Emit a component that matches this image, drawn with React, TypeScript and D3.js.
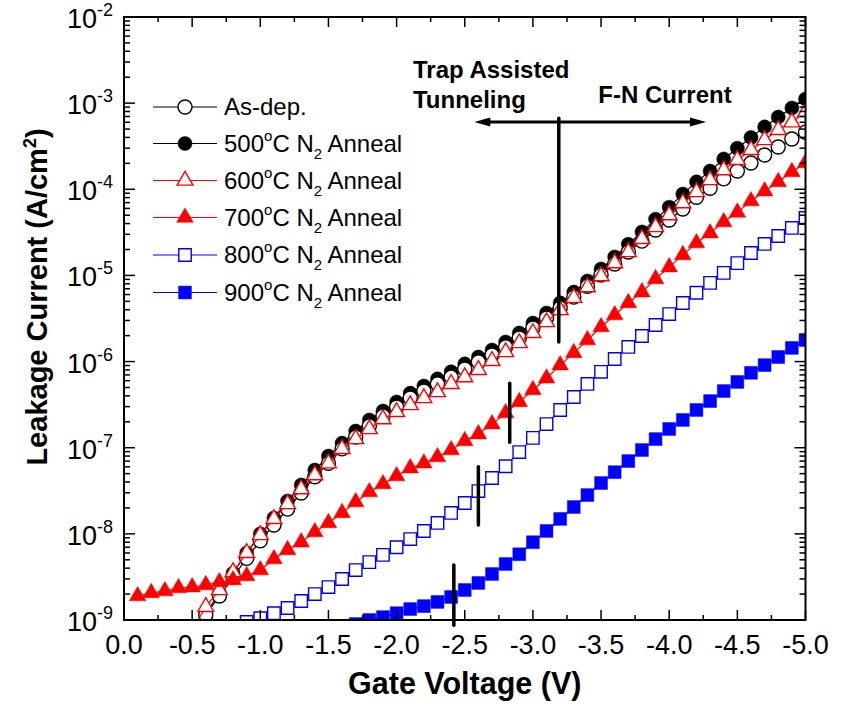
import React, { useEffect, useRef } from 'react';
import * as d3 from 'd3';

// gate voltage (V), one point every 0.1 V
const voltages = [
  -0.1, -0.2, -0.3, -0.4, -0.5, -0.6, -0.7, -0.8, -0.9, -1.0,
  -1.1, -1.2, -1.3, -1.4, -1.5, -1.6, -1.7, -1.8, -1.9, -2.0,
  -2.1, -2.2, -2.3, -2.4, -2.5, -2.6, -2.7, -2.8, -2.9, -3.0,
  -3.1, -3.2, -3.3, -3.4, -3.5, -3.6, -3.7, -3.8, -3.9, -4.0,
  -4.1, -4.2, -4.3, -4.4, -4.5, -4.6, -4.7, -4.8, -4.9, -5.0,
];

// leakage current (A/cm2), null where not measured / shown
const asDep = [
  null, null, null, null, 6.7e-10, 1.14e-9, 1.9e-9, 3.15e-9, 5.2e-9, 8.3e-9,
  1.27e-8, 1.94e-8, 2.98e-8, 4.6e-8, 6.6e-8, 9.7e-8, 1.33e-7, 1.79e-7, 2.33e-7, 2.97e-7,
  3.77e-7, 4.55e-7, 5.5e-7, 6.6e-7, 8.2e-7, 9.9e-7, 1.19e-6, 1.48e-6, 1.88e-6, 2.45e-6,
  3.2e-6, 4.2e-6, 5.6e-6, 7.5e-6, 1.01e-5, 1.36e-5, 1.87e-5, 2.5e-5, 3.37e-5, 4.4e-5,
  5.9e-5, 8.1e-5, 1.03e-4, 1.32e-4, 1.63e-4, 2.02e-4, 2.5e-4, 3.1e-4, 3.84e-4, 4.6e-4,
];
const anneal500 = [
  null, null, null, null, 7.1e-10, 1.2e-9, 2.06e-9, 3.5e-9, 6.0e-9, 1.0e-8,
  1.53e-8, 2.4e-8, 3.7e-8, 5.5e-8, 8.0e-8, 1.13e-7, 1.56e-7, 2.1e-7, 2.67e-7, 3.4e-7,
  4.3e-7, 5.2e-7, 6.3e-7, 7.6e-7, 9.4e-7, 1.13e-6, 1.36e-6, 1.69e-6, 2.15e-6, 2.8e-6,
  3.66e-6, 4.8e-6, 6.4e-6, 8.6e-6, 1.19e-5, 1.64e-5, 2.3e-5, 3.2e-5, 4.5e-5, 6.2e-5,
  8.8e-5, 1.22e-4, 1.63e-4, 2.25e-4, 3.0e-4, 4.0e-4, 5.3e-4, 6.9e-4, 8.8e-4, 1.12e-3,
];
const anneal600 = [
  null, null, null, null, 7.65e-10, 1.42e-9, 2.23e-9, 3.6e-9, 6.0e-9, 9.7e-9,
  1.49e-8, 2.22e-8, 3.3e-8, 4.8e-8, 6.6e-8, 9.7e-8, 1.26e-7, 1.65e-7, 2.15e-7, 2.6e-7,
  3.13e-7, 3.77e-7, 4.43e-7, 5.5e-7, 6.6e-7, 8.0e-7, 1.02e-6, 1.29e-6, 1.64e-6, 2.15e-6,
  2.88e-6, 3.97e-6, 5.5e-6, 7.3e-6, 9.8e-6, 1.39e-5, 1.87e-5, 2.65e-5, 3.65e-5, 5.0e-5,
  6.9e-5, 9.3e-5, 1.28e-4, 1.67e-4, 2.19e-4, 2.86e-4, 3.73e-4, 4.9e-4, 6.0e-4, 7.9e-4,
];
const anneal700 = [
  1.9e-9, 2.06e-9, 2.17e-9, 2.35e-9, 2.41e-9, 2.55e-9, 2.76e-9, 2.91e-9, 3.24e-9, 3.8e-9,
  5.1e-9, 6.5e-9, 8.0e-9, 1.05e-8, 1.34e-8, 1.75e-8, 2.34e-8, 3.06e-8, 3.79e-8, 4.69e-8,
  5.8e-8, 6.6e-8, 7.8e-8, 9.4e-8, 1.2e-7, 1.44e-7, 1.88e-7, 2.53e-7, 3.4e-7, 4.68e-7,
  6.4e-7, 9.1e-7, 1.26e-6, 1.78e-6, 2.52e-6, 3.47e-6, 4.79e-6, 6.4e-6, 9.1e-6, 1.25e-5,
  1.73e-5, 2.38e-5, 3.1e-5, 4.17e-5, 5.4e-5, 7.3e-5, 9.5e-5, 1.22e-4, 1.59e-4, 2.02e-4,
];
const anneal800 = [
  null, null, null, null, null, null, null, null, 9.5e-10, 1.05e-9,
  1.2e-9, 1.38e-9, 1.66e-9, 2.0e-9, 2.41e-9, 2.99e-9, 3.8e-9, 4.7e-9, 5.7e-9, 7.0e-9,
  8.7e-9, 1.08e-8, 1.34e-8, 1.75e-8, 2.28e-8, 3.14e-8, 4.45e-8, 6.1e-8, 8.9e-8, 1.3e-7,
  1.88e-7, 2.74e-7, 3.88e-7, 5.5e-7, 7.6e-7, 1.07e-6, 1.48e-6, 1.98e-6, 2.66e-6, 3.56e-6,
  4.79e-6, 6.3e-6, 8.2e-6, 1.07e-5, 1.39e-5, 1.82e-5, 2.32e-5, 2.87e-5, 3.56e-5, 4.64e-5,
];
const anneal900 = [
  null, null, null, null, null, null, null, null, null, null,
  null, null, null, null, null, 8.0e-10, 8.98e-10, 1.0e-9, 1.08e-9, 1.2e-9,
  1.34e-9, 1.45e-9, 1.62e-9, 1.85e-9, 2.23e-9, 2.69e-9, 3.42e-9, 4.47e-9, 5.8e-9, 8.0e-9,
  1.08e-8, 1.49e-8, 2.05e-8, 2.82e-8, 3.89e-8, 5.2e-8, 7.0e-8, 9.4e-8, 1.26e-7, 1.65e-7,
  2.1e-7, 2.74e-7, 3.48e-7, 4.55e-7, 5.8e-7, 7.4e-7, 9.1e-7, 1.13e-6, 1.44e-6, 1.78e-6,
];

const seriesLabels = ['As-dep.', '500', '600', '700', '800', '900'];

// tick labels
const xTicks = [0, -0.5, -1.0, -1.5, -2.0, -2.5, -3.0, -3.5, -4.0, -4.5, -5.0];
const yExponents = [-9, -8, -7, -6, -5, -4, -3, -2];

// vertical marks at the TAT / F-N transition: voltage, top, bottom current
const markV = [-3.19, -2.83, -2.6, -2.42];
const markTop = [6.7e-4, 5.6e-7, 6.0e-8, 4.35e-9];
const markBottom = [1.69e-6, 1.16e-7, 1.27e-8, 8.7e-10];

const FONT = "'Liberation Sans', Arial, sans-serif";

const App = () => {
  const ref = useRef<SVGSVGElement>(null);

  useEffect(() => {
    const svg = d3.select(ref.current);
    svg.selectAll('*').remove();

    const left = 124, right = 805.5, top = 17, bottom = 620;
    const x = d3.scaleLinear().domain([0, -5]).range([left, right]);
    const y = d3.scaleLog().domain([1e-9, 1e-2]).range([bottom, top]);

    svg.append('rect').attr('width', 841).attr('height', 706).attr('fill', '#fff');

    svg.append('clipPath').attr('id', 'plotClip')
      .append('rect')
      .attr('x', left).attr('y', top)
      .attr('width', right - left).attr('height', bottom - top);

    // series, drawn in the stacking order seen in the figure
    const series = [
      { values: anneal500, color: '#000', symbol: d3.symbolCircle, size: 155, filled: true, label: 1 },
      { values: asDep, color: '#000', symbol: d3.symbolCircle, size: 155, filled: false, label: 0 },
      { values: anneal600, color: '#ff0000', symbol: d3.symbolTriangle, size: 110, filled: false, label: 2 },
      { values: anneal700, color: '#ff0000', symbol: d3.symbolTriangle, size: 120, filled: true, label: 3 },
      { values: anneal800, color: '#0000ff', symbol: d3.symbolSquare, size: 155, filled: false, label: 4 },
      { values: anneal900, color: '#0000ff', symbol: d3.symbolSquare, size: 165, filled: true, label: 5 },
    ];

    const plot = svg.append('g').attr('clip-path', 'url(#plotClip)');

    const line = d3.line<number | null>()
      .defined(d => d != null)
      .x((d, i) => x(voltages[i]))
      .y(d => y(d as number));

    series.forEach(s => {
      const g = plot.append('g');
      g.append('path')
        .attr('d', line(s.values))
        .attr('fill', 'none')
        .attr('stroke', s.color)
        .attr('stroke-width', 1.2);
      const pts = s.values
        .map((v, i) => ({ v, i }))
        .filter(p => p.v != null);
      g.selectAll('path.m')
        .data(pts)
        .enter()
        .append('path')
        .attr('class', 'm')
        .attr('d', d3.symbol().type(s.symbol).size(s.size))
        .attr('transform', p => 'translate(' + x(voltages[p.i]) + ',' + y(p.v as number) + ')')
        .attr('fill', s.filled ? s.color : '#fff')
        .attr('stroke', s.color)
        .attr('stroke-width', s.filled ? 0.5 : 1.4);
    });

    // frame
    svg.append('rect')
      .attr('x', left).attr('y', top)
      .attr('width', right - left).attr('height', bottom - top)
      .attr('fill', 'none').attr('stroke', '#000').attr('stroke-width', 2);

    const ticks = svg.append('g').attr('stroke', '#000').attr('stroke-width', 1.5);

    // x ticks (major every 0.5, minor every 0.25), bottom and top, pointing inward
    xTicks.forEach((v, i) => {
      ticks.append('line').attr('x1', x(v)).attr('x2', x(v)).attr('y1', bottom).attr('y2', bottom - 10);
      ticks.append('line').attr('x1', x(v)).attr('x2', x(v)).attr('y1', top).attr('y2', top + 10);
      if (i < xTicks.length - 1) {
        const m = (v + xTicks[i + 1]) / 2;
        ticks.append('line').attr('x1', x(m)).attr('x2', x(m)).attr('y1', bottom).attr('y2', bottom - 5);
        ticks.append('line').attr('x1', x(m)).attr('x2', x(m)).attr('y1', top).attr('y2', top + 5);
      }
    });

    // y ticks (decades + 2..9 minors), left and right
    yExponents.forEach((e, i) => {
      const d = Math.pow(10, e);
      ticks.append('line').attr('x1', left).attr('x2', left + 11).attr('y1', y(d)).attr('y2', y(d));
      ticks.append('line').attr('x1', right).attr('x2', right - 11).attr('y1', y(d)).attr('y2', y(d));
      if (i < yExponents.length - 1) {
        for (let k = 2; k <= 9; k++) {
          const yy = y(k * d);
          ticks.append('line').attr('x1', left).attr('x2', left + 6).attr('y1', yy).attr('y2', yy);
          ticks.append('line').attr('x1', right).attr('x2', right - 6).attr('y1', yy).attr('y2', yy);
        }
      }
    });

    // x tick labels
    svg.append('g')
      .selectAll('text')
      .data(xTicks)
      .enter()
      .append('text')
      .attr('x', d => x(d))
      .attr('y', bottom + 34)
      .attr('text-anchor', 'middle')
      .attr('font-family', FONT)
      .attr('font-size', 27)
      .text(d => (d === 0 ? '0.0' : d.toFixed(1)));

    // y tick labels 10^n
    yExponents.forEach(e => {
      const t = svg.append('text')
        .attr('x', 113)
        .attr('y', y(Math.pow(10, e)) + 11)
        .attr('text-anchor', 'end')
        .attr('font-family', FONT)
        .attr('font-size', 27);
      t.append('tspan').text('10');
      t.append('tspan').attr('dy', -12).attr('font-size', 18).text(String(e));
    });

    // axis titles
    svg.append('text')
      .attr('x', (left + right) / 2)
      .attr('y', 694)
      .attr('text-anchor', 'middle')
      .attr('font-family', FONT)
      .attr('font-weight', 'bold')
      .attr('font-size', 30.5)
      .text('Gate Voltage (V)');

    const yt = svg.append('text')
      .attr('transform', 'translate(47,297) rotate(-90)')
      .attr('text-anchor', 'middle')
      .attr('font-family', FONT)
      .attr('font-weight', 'bold')
      .attr('font-size', 29);
    yt.append('tspan').text('Leakage Current (A/cm');
    yt.append('tspan').attr('dy', -11).attr('font-size', 18).text('2');
    yt.append('tspan').attr('dy', 11).text(')');

    // legend
    const legendRows = [107, 143.5, 180.5, 217.5, 255, 292.5];
    const lg = svg.append('g');
    series.forEach(s => {
      const cy = legendRows[s.label];
      lg.append('line')
        .attr('x1', 153).attr('x2', 217).attr('y1', cy).attr('y2', cy)
        .attr('stroke', s.color).attr('stroke-width', 1.2);
      lg.append('path')
        .attr('d', d3.symbol().type(s.symbol).size(s.size)())
        .attr('transform', 'translate(185,' + cy + ')')
        .attr('fill', s.filled ? s.color : '#fff')
        .attr('stroke', s.color)
        .attr('stroke-width', s.filled ? 0.5 : 1.4);
      const t = lg.append('text')
        .attr('x', 224)
        .attr('y', cy + 8)
        .attr('font-family', FONT)
        .attr('font-size', 24);
      const name = seriesLabels[s.label];
      if (s.label === 0) {
        t.text(name);
      } else {
        t.append('tspan').text(name);
        t.append('tspan').attr('dy', -11).attr('font-size', 15).text('o');
        t.append('tspan').attr('dy', 11).text('C N');
        t.append('tspan').attr('dy', 7).attr('font-size', 15).text('2');
        t.append('tspan').attr('dy', -7).text(' Anneal');
      }
    });

    // transition marks
    const ann = svg.append('g').attr('stroke', '#000').attr('stroke-linecap', 'round');
    markV.forEach((v, i) => {
      ann.append('line')
        .attr('x1', x(v)).attr('x2', x(v))
        .attr('y1', y(markTop[i])).attr('y2', y(markBottom[i]))
        .attr('stroke-width', 3.5);
    });

    // double arrow: TAT <- | -> F-N
    const ay = y(6.04e-4);
    const ax1 = x(-2.57), ax2 = x(-4.27);
    ann.append('line')
      .attr('x1', ax1 + 10).attr('x2', ax2 - 10)
      .attr('y1', ay).attr('y2', ay)
      .attr('stroke-width', 3)
      .attr('stroke-linecap', 'butt');
    svg.append('path')
      .attr('d', 'M' + ax1 + ',' + ay + 'l16,-4.5l0,9z')
      .attr('fill', '#000');
    svg.append('path')
      .attr('d', 'M' + ax2 + ',' + ay + 'l-16,-4.5l0,9z')
      .attr('fill', '#000');

    const labels = [
      { text: 'Trap Assisted', v: -2.12, c: 1.96e-3 },
      { text: 'Tunneling', v: -2.12, c: 8.8e-4 },
      { text: 'F-N Current', v: -3.48, c: 1.0e-3 },
    ];
    svg.append('g')
      .selectAll('text')
      .data(labels)
      .enter()
      .append('text')
      .attr('x', d => x(d.v))
      .attr('y', d => y(d.c))
      .attr('font-family', FONT)
      .attr('font-weight', 'bold')
      .attr('font-size', 24)
      .text(d => d.text);
  }, []);

  return (
    <div style={{ position: 'absolute', left: 0, top: 0 }}>
      <svg ref={ref} width={841} height={706} style={{ display: 'block' }} />
    </div>
  );
};

export default App;
